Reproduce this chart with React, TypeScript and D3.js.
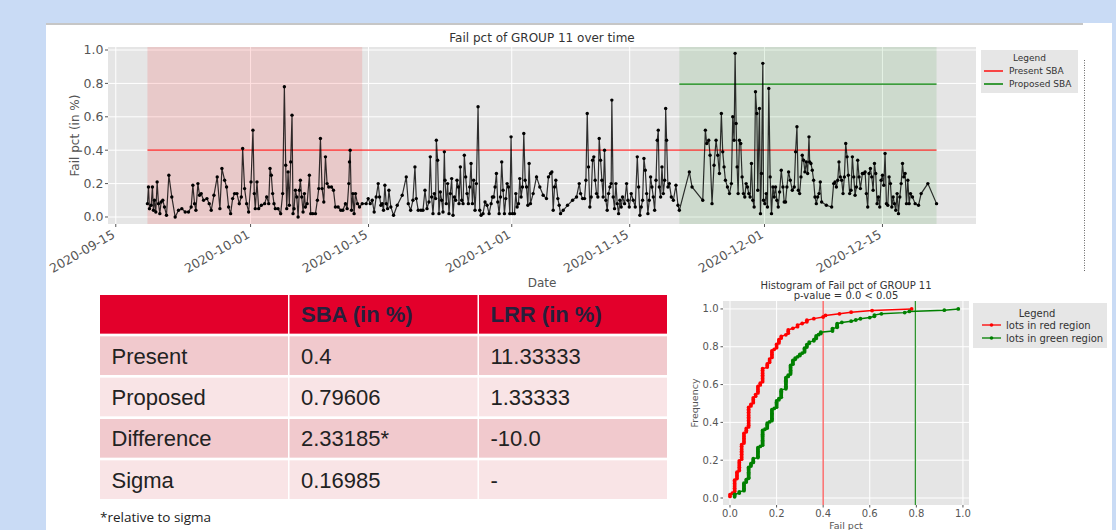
import React from "react";
import * as d3 from "d3";

// time axis: days after 2020-09-15 (UTC)
const START_DATE = Date.UTC(2020, 8, 15);
const DAY_MS = 864e5;

// [day offset, fail pct] for lots in the red (present) window
const redPeriod: [number, number][] = [
  [3.76, 0.08], [3.88, 0.18], [4.0, 0.05], [4.2, 0.07], [4.35, 0.18], [4.47, 0.04], [4.59, 0.1], [4.75, 0.03],
  [4.91, 0.21], [5.07, 0.08], [5.23, 0.02], [5.38, 0.09], [5.58, 0.1], [5.78, 0.06], [6.02, 0.01], [6.3, 0.25],
  [6.65, 0.12], [7.05, 0.0], [7.45, 0.04], [7.84, 0.05], [8.24, 0.03], [8.63, 0.03], [8.95, 0.06], [9.15, 0.19],
  [9.35, 0.08], [9.51, 0.04], [9.75, 0.2], [9.94, 0.13], [10.14, 0.14], [10.42, 0.1], [10.82, 0.11], [11.09, 0.08],
  [11.33, 0.04], [11.65, 0.13], [12.04, 0.24], [12.36, 0.05], [12.6, 0.29], [12.92, 0.22], [13.15, 0.18], [13.39, 0.06],
  [13.63, 0.02], [13.87, 0.11], [14.1, 0.14], [14.38, 0.14], [14.66, 0.08], [14.9, 0.12], [15.06, 0.41], [15.29, 0.17],
  [15.53, 0.08], [15.77, 0.03], [16.05, 0.21], [16.28, 0.52], [16.44, 0.14], [16.56, 0.05], [16.76, 0.21], [16.96, 0.05],
  [17.28, 0.07], [17.67, 0.08], [17.91, 0.12], [18.15, 0.08], [18.31, 0.29], [18.46, 0.25], [18.62, 0.14], [18.78, 0.08],
  [18.94, 0.05], [19.26, 0.05], [19.57, 0.02], [19.81, 0.14], [20.01, 0.78], [20.17, 0.31], [20.29, 0.05], [20.45, 0.27],
  [20.6, 0.07], [20.76, 0.33], [20.92, 0.61], [21.04, 0.02], [21.16, 0.05], [21.32, 0.16], [21.48, 0.12], [21.64, 0.0],
  [21.79, 0.16], [21.91, 0.22], [22.07, 0.12], [22.23, 0.03], [22.39, 0.14], [22.51, 0.06], [22.71, 0.08], [22.98, 0.25],
  [23.14, 0.02], [23.38, 0.02], [23.7, 0.02], [23.93, 0.1], [24.09, 0.17], [24.29, 0.47], [24.49, 0.17], [24.69, 0.09],
  [24.89, 0.36], [25.08, 0.2], [25.28, 0.18], [25.6, 0.18], [25.84, 0.16], [26.07, 0.06], [26.39, 0.06], [26.71, 0.04],
  [26.95, 0.04], [27.26, 0.08], [27.46, 0.05], [27.66, 0.2], [27.74, 0.33], [27.82, 0.4], [27.98, 0.04], [28.14, 0.14],
  [28.29, 0.02], [28.45, 0.14], [28.69, 0.08], [28.93, 0.06], [29.25, 0.08],
];

// lots between the two windows
const grayPeriod: [number, number][] = [
  [29.72, 0.08], [29.96, 0.11], [30.2, 0.08], [30.44, 0.1], [30.67, 0.03], [30.91, 0.12], [31.15, 0.2], [31.31, 0.12],
  [31.47, 0.07], [31.62, 0.08], [31.78, 0.04], [31.94, 0.19], [32.1, 0.08], [32.26, 0.05], [32.42, 0.16], [32.65, 0.06],
  [32.97, 0.01], [33.41, 0.07], [34.0, 0.13], [34.48, 0.24], [34.72, 0.08], [35.0, 0.04], [35.27, 0.1], [35.51, 0.3],
  [35.67, 0.11], [35.9, 0.04], [36.22, 0.04], [36.46, 0.04], [36.7, 0.16], [36.94, 0.05], [37.17, 0.09], [37.33, 0.36],
  [37.49, 0.12], [37.65, 0.02], [37.81, 0.14], [37.97, 0.11], [38.05, 0.46], [38.2, 0.34], [38.36, 0.02], [38.52, 0.15],
  [38.68, 0.1], [38.84, 0.03], [39.0, 0.39], [39.08, 0.22], [39.23, 0.08], [39.39, 0.2], [39.55, 0.02], [39.71, 0.14],
  [39.87, 0.23], [40.03, 0.01], [40.19, 0.12], [40.34, 0.1], [40.5, 0.22], [40.66, 0.18], [40.74, 0.08], [40.9, 0.3],
  [41.06, 0.1], [41.22, 0.08], [41.37, 0.37], [41.53, 0.24], [41.69, 0.14], [41.85, 0.08], [42.01, 0.18], [42.17, 0.32],
  [42.33, 0.08], [42.48, 0.22], [42.64, 0.04], [42.8, 0.2], [43.0, 0.66], [43.2, 0.04], [43.36, 0.01], [43.59, 0.02],
  [43.83, 0.09], [44.07, 0.07], [44.31, 0.02], [44.55, 0.08], [44.7, 0.12], [44.86, 0.12], [45.02, 0.18], [45.18, 0.26],
  [45.34, 0.09], [45.5, 0.02], [45.66, 0.12], [45.81, 0.33], [45.97, 0.16], [46.13, 0.02], [46.29, 0.11], [46.45, 0.2],
  [46.61, 0.18], [46.77, 0.02], [46.92, 0.48], [47.08, 0.02], [47.32, 0.02], [47.48, 0.14], [47.64, 0.06], [47.8, 0.08],
  [47.95, 0.23], [48.11, 0.12], [48.27, 0.18], [48.43, 0.5], [48.59, 0.22], [48.75, 0.18], [48.91, 0.07], [49.06, 0.32],
  [49.22, 0.08], [49.54, 0.14], [49.94, 0.24], [50.33, 0.18], [50.73, 0.13], [51.12, 0.11], [51.36, 0.24], [51.6, 0.26],
  [51.76, 0.27], [51.92, 0.04], [52.08, 0.18], [52.23, 0.22], [52.47, 0.11], [52.63, 0.07], [52.79, 0.02], [53.11, 0.04],
  [53.62, 0.07], [54.22, 0.1], [54.69, 0.12], [55.01, 0.2], [55.17, 0.14], [55.41, 0.11], [55.64, 0.11], [55.8, 0.22],
  [55.96, 0.62], [56.11, 0.3], [56.27, 0.06], [56.43, 0.12], [56.59, 0.34], [56.74, 0.36], [56.9, 0.22], [57.06, 0.14],
  [57.22, 0.12], [57.38, 0.47], [57.54, 0.34], [57.7, 0.22], [57.85, 0.12], [58.01, 0.4], [58.17, 0.1], [58.33, 0.04],
  [58.49, 0.14], [58.65, 0.18], [58.8, 0.2], [58.88, 0.7], [59.04, 0.12], [59.2, 0.05], [59.36, 0.2], [59.52, 0.08],
  [59.68, 0.02], [59.84, 0.1], [59.99, 0.06], [60.15, 0.12], [60.39, 0.08], [60.63, 0.2], [60.79, 0.1], [60.95, 0.06],
  [61.18, 0.14], [61.42, 0.1], [61.66, 0.06], [61.9, 0.36], [62.06, 0.18], [62.21, 0.01], [62.37, 0.06], [62.53, 0.1],
  [62.69, 0.35], [62.85, 0.28], [63.01, 0.14], [63.16, 0.02], [63.32, 0.1], [63.48, 0.24], [63.64, 0.18], [63.8, 0.12],
  [63.96, 0.04], [64.12, 0.22], [64.27, 0.46], [64.39, 0.52], [64.51, 0.18], [64.67, 0.12], [64.83, 0.3], [64.99, 0.14],
  [65.15, 0.22], [65.27, 0.65], [65.38, 0.46], [65.54, 0.18], [65.7, 0.2], [65.94, 0.12], [66.18, 0.1], [66.49, 0.19],
  [66.73, 0.07],
];

// lots in the green (proposed) window
const greenPeriod: [number, number][] = [
  [66.89, 0.04], [68.08, 0.27], [68.4, 0.18], [69.67, 0.1], [69.98, 0.52], [70.14, 0.44], [70.38, 0.46], [70.54, 0.37],
  [70.77, 0.08], [71.01, 0.31], [71.25, 0.46], [71.45, 0.37], [71.65, 0.26], [71.88, 0.62], [72.04, 0.39], [72.2, 0.3],
  [72.36, 0.22], [72.6, 0.18], [72.84, 0.14], [73.07, 0.2], [73.23, 0.6], [73.39, 0.46], [73.51, 0.98], [73.63, 0.56],
  [73.75, 0.3], [73.87, 0.14], [74.02, 0.46], [74.18, 0.44], [74.34, 0.24], [74.5, 0.14], [74.66, 0.12], [74.82, 0.2],
  [74.98, 0.18], [75.13, 0.14], [75.29, 0.12], [75.45, 0.32], [75.61, 0.1], [75.77, 0.06], [75.93, 0.75], [76.09, 0.62],
  [76.2, 0.16], [76.4, 0.65], [76.52, 0.02], [76.64, 0.26], [76.8, 0.92], [76.88, 0.1], [77.04, 0.08], [77.2, 0.14],
  [77.35, 0.06], [77.51, 0.77], [77.67, 0.24], [77.83, 0.02], [78.0, 0.18], [78.15, 0.12], [78.31, 0.18], [78.47, 0.1],
  [78.63, 0.06], [78.79, 0.15], [78.99, 0.28], [79.19, 0.18], [79.34, 0.09], [79.5, 0.09], [79.66, 0.18], [79.86, 0.27],
  [80.06, 0.22], [80.3, 0.16], [80.53, 0.18], [80.69, 0.39], [80.85, 0.54], [81.01, 0.16], [81.17, 0.14], [81.33, 0.24],
  [81.48, 0.37], [81.64, 0.34], [81.8, 0.27], [81.96, 0.33], [82.12, 0.26], [82.28, 0.48], [82.36, 0.33], [82.51, 0.32],
  [82.67, 0.28], [82.83, 0.22], [82.99, 0.12], [83.15, 0.08], [83.31, 0.12], [83.47, 0.14], [83.62, 0.21], [83.78, 0.09],
  [84.34, 0.07], [84.97, 0.06], [85.21, 0.2], [85.37, 0.21], [85.53, 0.18], [85.69, 0.22], [85.84, 0.33], [86.0, 0.24],
  [86.16, 0.22], [86.32, 0.14], [86.48, 0.24], [86.64, 0.44], [86.8, 0.36], [86.95, 0.25], [87.11, 0.14], [87.27, 0.16],
  [87.43, 0.36], [87.59, 0.24], [87.75, 0.13], [87.91, 0.18], [88.06, 0.34], [88.22, 0.24], [88.38, 0.17], [88.62, 0.26],
  [88.78, 0.26], [88.94, 0.27], [89.09, 0.14], [89.25, 0.06], [89.41, 0.26], [89.57, 0.29], [89.73, 0.24], [89.89, 0.16],
  [90.05, 0.32], [90.2, 0.26], [90.36, 0.08], [90.52, 0.12], [90.68, 0.06], [90.84, 0.22], [91.0, 0.25], [91.16, 0.19],
  [91.31, 0.38], [91.47, 0.08], [91.63, 0.07], [91.79, 0.24], [91.95, 0.2], [92.11, 0.06], [92.27, 0.12], [92.42, 0.08],
  [92.58, 0.04], [92.74, 0.14], [92.9, 0.02], [93.06, 0.12], [93.22, 0.2], [93.38, 0.32], [93.53, 0.24], [93.69, 0.26],
  [93.85, 0.08], [94.01, 0.22], [94.17, 0.08], [94.33, 0.14], [94.56, 0.12], [94.88, 0.08], [95.28, 0.07], [95.59, 0.14],
  [96.39, 0.2], [97.42, 0.08],
];

const presentSBA = 0.4;
const proposedSBA = 0.79606;

const dateTickLabels = ["2020-09-15", "2020-10-01", "2020-10-15", "2020-11-01", "2020-11-15", "2020-12-01", "2020-12-15"];
const pctTicks = [0, 0.2, 0.4, 0.6, 0.8, 1.0];

const tableColumns = ["", "SBA (in %)", "LRR (in %)"];
const tableRows = ["Present", "Proposed", "Difference", "Sigma"];
const sbaValues = ["0.4", "0.79606", "2.33185*", "0.16985"];
const lrrValues = ["11.33333", "1.33333", "-10.0", "-"];

const FONT = "'DejaVu Sans', sans-serif";
const GRID_BG = "#e5e5e5";
const TICK_COLOR = "#555";

const toDate = (d: number) => new Date(START_DATE + d * DAY_MS);
const parseDay = d3.utcParse("%Y-%m-%d");

const TimeSeries = () => {
  const all = [...redPeriod, ...grayPeriod, ...greenPeriod];
  const [d0, d1] = d3.extent(all, d => d[0]) as [number, number];
  const pad = (d1 - d0) * 0.05;
  const x = d3.scaleUtc().domain([toDate(d0 - pad), toDate(d1 + pad)]).range([108, 976]);
  const y = d3.scaleLinear().domain([-0.042, 1.018]).range([224, 47]);
  const line = d3.line<[number, number]>().x(d => x(toDate(d[0]))).y(d => y(d[1]));
  const ticks = dateTickLabels.map(s => parseDay(s) as Date);
  const [x0, x1] = x.range();
  const [yb, yt] = y.range();
  const redX0 = x(toDate(redPeriod[0][0]));
  const redX1 = x(toDate(redPeriod[redPeriod.length - 1][0]));
  const greenX0 = x(toDate(greenPeriod[0][0]));
  const greenX1 = x(toDate(greenPeriod[greenPeriod.length - 1][0]));
  const cx = (x0 + x1) / 2;

  return (
    <g fontFamily={FONT}>
      <rect x={x0} y={yt} width={x1 - x0} height={yb - yt} fill={GRID_BG} />
      {pctTicks.map(t => (
        <line key={"gy" + t} x1={x0} x2={x1} y1={y(t)} y2={y(t)} stroke="#fff" strokeWidth={1} />
      ))}
      {ticks.map((t, i) => (
        <line key={"gx" + i} x1={x(t)} x2={x(t)} y1={yt} y2={yb} stroke="#fff" strokeWidth={1} />
      ))}
      <rect x={redX0} y={yt} width={redX1 - redX0} height={yb - yt} fill="red" fillOpacity={0.12} />
      <rect x={greenX0} y={yt} width={greenX1 - greenX0} height={yb - yt} fill="green" fillOpacity={0.1} />
      <line x1={redX0} x2={greenX1} y1={y(presentSBA)} y2={y(presentSBA)} stroke="red" strokeOpacity={0.6} strokeWidth={1.7} />
      <line x1={greenX0} x2={greenX1} y1={y(proposedSBA)} y2={y(proposedSBA)} stroke="green" strokeOpacity={0.7} strokeWidth={1.7} />
      <path d={line(all) ?? ""} fill="none" stroke="#000" strokeOpacity={0.8} strokeWidth={1.2} />
      {all.map((d, i) => (
        <circle key={i} cx={x(toDate(d[0]))} cy={y(d[1])} r={1.7} fill="#000" />
      ))}
      {pctTicks.map(t => (
        <g key={"ty" + t}>
          <line x1={x0 - 3} x2={x0} y1={y(t)} y2={y(t)} stroke={TICK_COLOR} />
          <text x={x0 - 4.5} y={y(t)} dy="0.35em" textAnchor="end" fontSize={12.5} fill={TICK_COLOR}>
            {t.toFixed(1)}
          </text>
        </g>
      ))}
      {ticks.map((t, i) => (
        <g key={"tx" + i}>
          <line x1={x(t)} x2={x(t)} y1={yb} y2={yb + 3} stroke={TICK_COLOR} />
          <text
            transform={`translate(${x(t)},${yb + 13}) rotate(-30)`}
            textAnchor="end"
            fontSize={12.5}
            fill={TICK_COLOR}
          >
            {dateTickLabels[i]}
          </text>
        </g>
      ))}
      <text x={cx} y={42} textAnchor="middle" fontSize={12} fill="#333">
        Fail pct of GROUP 11 over time
      </text>
      <text x={cx} y={287} textAnchor="middle" fontSize={12} fill={TICK_COLOR}>
        Date
      </text>
      <text transform={`translate(79,${(yt + yb) / 2}) rotate(-90)`} textAnchor="middle" fontSize={12} fill={TICK_COLOR}>
        Fail pct (in %)
      </text>

      <rect x={981} y={50} width={97} height={43} fill="#e6e6e6" />
      <text x={1029.5} y={61} textAnchor="middle" fontSize={9} fill="#333">Legend</text>
      <line x1={984} x2={1003} y1={71} y2={71} stroke="red" strokeOpacity={0.7} strokeWidth={2} />
      <text x={1009} y={74} fontSize={9} fill="#333">Present SBA</text>
      <line x1={984} x2={1003} y1={84} y2={84} stroke="green" strokeOpacity={0.75} strokeWidth={2} />
      <text x={1009} y={87} fontSize={9} fill="#333">Proposed SBA</text>

      <line x1={1084.5} x2={1084.5} y1={60} y2={272} stroke="#666" strokeWidth={1} strokeDasharray="1,1.5" />
    </g>
  );
};

const FailTable = () => {
  const col = d3.scaleBand<number>().domain([0, 1, 2]).range([100, 667]).paddingInner(0.008);
  const row = d3.scaleBand<number>().domain([0, 1, 2, 3, 4]).range([295, 499]).paddingInner(0.065);
  const body = tableRows.map((r, i) => [r, sbaValues[i], lrrValues[i]]);
  const cells = [tableColumns, ...body];
  const fillFor = (ri: number) => (ri === 0 ? "#e3002b" : ri % 2 === 1 ? "#f1c9cd" : "#f9e4e6");

  return (
    <g fontFamily="'Liberation Sans', Arial, sans-serif">
      {cells.map((r, ri) =>
        r.map((txt, ci) => (
          <g key={ri + "-" + ci}>
            <rect x={col(ci)} y={row(ri)} width={col.bandwidth()} height={row.bandwidth()} fill={fillFor(ri)} />
            <text
              x={(col(ci) ?? 0) + 11.5}
              y={(row(ri) ?? 0) + row.bandwidth() / 2}
              dy="0.36em"
              fontSize={22}
              fontWeight={ri === 0 ? 700 : 400}
              fill={ri === 0 ? "#26203c" : "#222"}
            >
              {txt}
            </text>
          </g>
        ))
      )}
      <text x={100} y={522} fontFamily="'Open Sans', sans-serif" fontSize={13.5} fill="#222">
        *relative to sigma
      </text>
    </g>
  );
};

const EcdfChart = () => {
  const ecdf = (rows: [number, number][]) => {
    const vals = rows.map(d => d[1]).sort(d3.ascending);
    return vals.map((v, i) => [v, (i + 1) / vals.length] as [number, number]);
  };
  const redPts = ecdf(redPeriod);
  const greenPts = ecdf(greenPeriod);
  const x = d3.scaleLinear().domain([-0.03, 1.026]).range([723, 969]);
  const y = d3.scaleLinear().domain([-0.037, 1.042]).range([505, 301]);
  const line = d3.line<[number, number]>().x(d => x(d[0])).y(d => y(d[1]));
  const [x0, x1] = x.range();
  const [yb, yt] = y.range();
  const cx = (x0 + x1) / 2;
  const series = [
    { pts: redPts, color: "red" },
    { pts: greenPts, color: "green" },
  ];

  return (
    <g fontFamily={FONT}>
      <rect x={x0} y={yt} width={x1 - x0} height={yb - yt} fill={GRID_BG} />
      {pctTicks.map(t => (
        <g key={"g" + t}>
          <line x1={x0} x2={x1} y1={y(t)} y2={y(t)} stroke="#fff" />
          <line x1={x(t)} x2={x(t)} y1={yt} y2={yb} stroke="#fff" />
        </g>
      ))}
      <line x1={x(presentSBA)} x2={x(presentSBA)} y1={yt} y2={yb} stroke="red" strokeOpacity={0.6} strokeWidth={1.4} />
      <line x1={x(proposedSBA)} x2={x(proposedSBA)} y1={yt} y2={yb} stroke="green" strokeOpacity={0.8} strokeWidth={1.4} />
      {series.map(s => (
        <g key={s.color}>
          <path d={line(s.pts) ?? ""} fill="none" stroke={s.color} strokeWidth={1.5} />
          {s.pts.map((p, i) => (
            <circle key={i} cx={x(p[0])} cy={y(p[1])} r={1.9} fill={s.color} />
          ))}
        </g>
      ))}
      {pctTicks.map(t => (
        <g key={"t" + t}>
          <line x1={x0 - 2.5} x2={x0} y1={y(t)} y2={y(t)} stroke={TICK_COLOR} />
          <text x={x0 - 4.5} y={y(t)} dy="0.35em" textAnchor="end" fontSize={10} fill={TICK_COLOR}>
            {t.toFixed(1)}
          </text>
          <line x1={x(t)} x2={x(t)} y1={yb} y2={yb + 2.5} stroke={TICK_COLOR} />
          <text x={x(t)} y={516.5} textAnchor="middle" fontSize={10} fill={TICK_COLOR}>
            {t.toFixed(1)}
          </text>
        </g>
      ))}
      <text x={cx} y={288.5} textAnchor="middle" fontSize={10} fill="#333">
        Histogram of Fail pct of GROUP 11
      </text>
      <text x={cx} y={299} textAnchor="middle" fontSize={10} fill="#333">
        p-value = 0.0 &lt; 0.05
      </text>
      <text x={cx} y={528.5} textAnchor="middle" fontSize={9.5} fill={TICK_COLOR}>
        Fail pct
      </text>
      <text transform={`translate(698,${(yt + yb) / 2}) rotate(-90)`} textAnchor="middle" fontSize={9.5} fill={TICK_COLOR}>
        Frequency
      </text>

      <rect x={973} y={303} width={134} height={45} fill="#e6e6e6" />
      <text x={1037} y={316.5} textAnchor="middle" fontSize={10} fill="#333">Legend</text>
      {[
        { label: "lots in red region", color: "red", yy: 325 },
        { label: "lots in green region", color: "green", yy: 338 },
      ].map(l => (
        <g key={l.label}>
          <line x1={982} x2={1001} y1={l.yy} y2={l.yy} stroke={l.color} strokeWidth={1.3} />
          <circle cx={991.5} cy={l.yy} r={1.8} fill={l.color} />
          <text x={1006} y={l.yy + 3.5} fontSize={10} fill="#333">{l.label}</text>
        </g>
      ))}
    </g>
  );
};

export default function App() {
  return (
    <svg width={1116} height={530} style={{ position: "absolute", left: 0, top: 0, display: "block" }}>
      <rect width={1116} height={530} fill="#c9dbf5" />
      <rect x={46} y={23} width={1066} height={507} fill="#fff" />
      <line x1={46} x2={1083} y1={24} y2={24} stroke="#c6c6c6" strokeWidth={2} />
      <TimeSeries />
      <FailTable />
      <EcdfChart />
    </svg>
  );
}
